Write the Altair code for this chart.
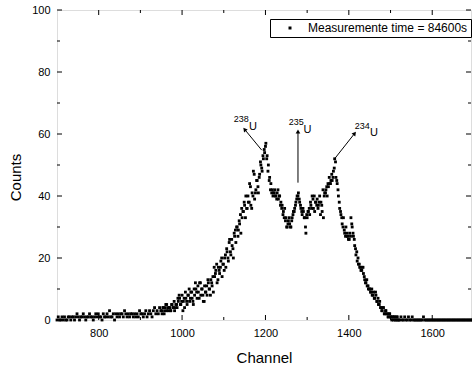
import altair as alt
import pandas as pd

# ---- data ----
channels = list(range(700, 1700, 3))
counts = [
    0, 1, 0, 0, 1, 0, 1, 0, 0, 1,        # 700-727
    1, 0, 1, 1, 0, 1, 2, 1, 0, 1,        # 730-757
    1, 2, 1, 0, 1, 1, 2, 1, 1, 0,        # 760-787
    1, 2, 1, 2, 1, 1, 0, 2, 1, 1,        # 790-817
    2, 1, 3, 1, 1, 2, 0, 2, 1, 2,        # 820-847
    1, 2, 2, 1, 3, 2, 1, 2, 1, 2,        # 850-877
    2, 1, 2, 1, 2, 1, 3, 2, 2, 1,        # 880-907
    2, 3, 1, 2, 3, 2, 1, 3, 4, 2,        # 910-937
    3, 2, 4, 3, 2, 4, 3, 5, 3, 4,        # 940-967
    4, 3, 5, 4, 3, 5, 4, 6, 7, 5,        # 970-997
    8, 6, 4, 7, 5, 8, 6, 9, 7, 5,        # 1000-1027
    8, 10, 7, 9, 12, 8, 10, 6, 11, 9,    # 1030-1057
    8, 12, 10, 13, 11, 9, 14, 16, 12, 17,  # 1060-1087
    15, 19, 14, 18, 20, 17, 22, 19, 26, 21,  # 1090-1117
    24, 20, 27, 25, 30, 29, 31, 28, 33, 35,  # 1120-1147
    37, 40, 36, 38, 44, 37, 41, 48, 39, 42,  # 1150-1177
    45, 41, 47, 50, 48, 52, 54, 57, 53, 50,  # 1180-1207
    46, 44, 42, 41, 42, 40, 41, 39, 40, 38,  # 1210-1237
    37, 35, 36, 33, 30, 32, 31, 30, 33, 35,  # 1240-1267
    36, 38, 40, 41, 38, 36, 34, 35, 33, 28,  # 1270-1297
    33, 35, 34, 37, 40, 36, 35, 38, 39, 37,  # 1300-1327
    40, 38, 35, 33, 41, 42, 40, 43, 44, 45,  # 1330-1357
    45, 48, 52, 46, 44, 40, 36, 34, 31, 33,  # 1360-1387
    28, 30, 27, 26, 28, 33, 30, 27, 24, 21,  # 1390-1417
    19, 18, 17, 16, 17, 15, 13, 12, 11, 10,  # 1420-1447
    10, 9, 8, 9, 7, 8, 6, 5, 6, 4,       # 1450-1477
    3, 4, 2, 3, 2, 1, 2, 1, 1, 0,        # 1480-1507
    1, 0, 1, 0, 0, 1, 0, 0, 1, 0,        # 1510-1537
    0, 1, 0, 0, 1, 0, 0, 0, 0, 0,        # 1540-1567
    0, 0, 0, 1, 0, 0, 0, 0, 0, 0,        # 1570-1597
    0, 0, 0, 0, 0, 0, 0, 0, 0, 0,        # 1600-1627
    0, 0, 0, 0, 0, 0, 0, 0, 0, 0,        # 1630-1657
    0, 0, 0, 0, 0, 0, 0, 0, 0, 0,        # 1660-1687
    0, 0, 0, 0,                          # 1690-1699
]
# interleaved channels in the peak region (denser sampling)
channels_b = list(range(951, 1519, 3))
counts_b = [
    3, 4, 2, 4, 5, 3, 4, 3, 5, 4,        # 951-978
    6, 4, 5, 7, 8, 5, 6, 3, 7, 9,        # 981-1008
    6, 8, 10, 7, 9, 6, 10, 12, 9, 11,    # 1011-1038
    7, 12, 10, 8, 6, 9, 11, 13, 10, 8,   # 1041-1068
    12, 14, 17, 15, 18, 13, 16, 17, 20, 18,  # 1071-1098
    16, 21, 23, 20, 25, 22, 26, 23, 28, 29,  # 1101-1128
    30, 27, 32, 34, 36, 35, 38, 33, 36, 40,  # 1131-1158
    38, 43, 36, 40, 47, 41, 45, 43, 46, 51,  # 1161-1188
    49, 53, 55, 56, 52, 48, 45, 42, 41, 40,  # 1191-1218
    41, 40, 39, 42, 40, 37, 36, 34, 33, 32,  # 1221-1248
    30, 31, 33, 30, 32, 34, 35, 37, 39, 40,  # 1251-1278
    39, 37, 35, 36, 33, 30, 34, 35, 36, 38,  # 1281-1308
    36, 39, 40, 38, 37, 36, 38, 34, 37, 42,  # 1311-1338
    40, 41, 43, 44, 46, 44, 47, 46, 49, 51,  # 1341-1368
    45, 42, 38, 35, 33, 30, 29, 27, 28, 27,  # 1371-1398
    26, 27, 31, 28, 26, 23, 22, 20, 18, 17,  # 1401-1428
    16, 17, 14, 12, 13, 11, 10, 9, 10, 8,    # 1431-1458
    7, 9, 6, 7, 5, 4, 3, 4, 2, 3,        # 1461-1488
    2, 1, 2, 1, 0, 1, 1, 0, 1, 0,        # 1491-1518
]
series_name = "Measuremente time = 84600s"

x_major = [800, 1000, 1200, 1400, 1600]
x_minor = [900, 1100, 1300, 1500]
y_major = [0, 20, 40, 60, 80, 100]
y_minor = [10, 30, 50, 70, 90]

# annotations (isotope peaks)
arrow_x1 = [1191, 1278, 1367]
arrow_y1 = [54.8, 44.3, 52.2]
arrow_x2 = [1150, 1278, 1414]
arrow_y2 = [61.5, 60.8, 60.2]
head_angle = [321, 0, 38]
iso_mass = ["238", "235", "234"]
mass_x = [1142, 1274, 1432]
mass_y = [64.8, 63.8, 62.6]
u_x = [1170, 1301, 1460]
u_y = [62.4, 61.3, 60.2]

W, H = 414, 310
FONT = "Liberation Sans"

xs = alt.Scale(domain=[700, 1693], nice=False, zero=False)
ys = alt.Scale(domain=[0, 100], nice=False)

df = pd.concat([
    pd.DataFrame({"Channel": channels, "Counts": counts}),
    pd.DataFrame({"Channel": channels_b, "Counts": counts_b}),
], ignore_index=True)
df["series"] = series_name

points = alt.Chart(df).mark_square(size=8, opacity=1).encode(
    x=alt.X("Channel:Q", scale=xs,
            axis=alt.Axis(values=x_major, format="d", ticks=False, grid=False, domain=False,
                          labelPadding=7, labelFontSize=11, title="Channel",
                          titleFontSize=15, titleFontWeight="normal",
                          titleBaseline="alphabetic", titleY=42)),
    y=alt.Y("Counts:Q", scale=ys,
            axis=alt.Axis(values=y_major, ticks=False, grid=False, domain=False,
                          labelPadding=7, labelFontSize=11, title="Counts",
                          titleFontSize=15, titleFontWeight="normal",
                          titleX=-42, titleY=167, titleBaseline="middle",
                          titleAlign="center", titleAngle=270)),
    color=alt.Color("series:N", scale=alt.Scale(range=["black"]),
                    legend=alt.Legend(title=None, orient="none", legendX=213, legendY=9,
                                      strokeColor="black", fillColor="white", padding=3,
                                      symbolType="square", symbolSize=9,
                                      symbolOffset=11, labelOffset=12,
                                      labelFontSize=12, labelFont=FONT,
                                      symbolStrokeWidth=0)),
)

# inward ticks
def yticks(vals, length):
    d = pd.DataFrame({"v": vals})
    left = alt.Chart(d).mark_rule(color="black", strokeWidth=1).encode(
        y=alt.Y("v:Q", scale=ys), x=alt.value(0), x2=alt.value(length))
    right = alt.Chart(d).mark_rule(color="black", strokeWidth=1).encode(
        y=alt.Y("v:Q", scale=ys), x=alt.value(W), x2=alt.value(W - length))
    return [left, right]

def xticks(vals, length):
    d = pd.DataFrame({"v": vals})
    bottom = alt.Chart(d).mark_rule(color="black", strokeWidth=1).encode(
        x=alt.X("v:Q", scale=xs), y=alt.value(H), y2=alt.value(H - length))
    top = alt.Chart(d).mark_rule(color="black", strokeWidth=1).encode(
        x=alt.X("v:Q", scale=xs), y=alt.value(0), y2=alt.value(length))
    return [bottom, top]

ticks = yticks(y_major, 5) + yticks(y_minor, 3) + xticks(x_major, 5) + xticks(x_minor, 3)

adf = pd.DataFrame({"x1": arrow_x1, "y1": arrow_y1, "x2": arrow_x2, "y2": arrow_y2,
                    "ang": head_angle})
arrows = alt.Chart(adf).mark_rule(color="black", strokeWidth=1).encode(
    x=alt.X("x1:Q", scale=xs), y=alt.Y("y1:Q", scale=ys), x2="x2:Q", y2="y2:Q")
heads = alt.Chart(adf).mark_point(shape="triangle-up", filled=True, size=22,
                                  color="black", opacity=1).encode(
    x=alt.X("x2:Q", scale=xs), y=alt.Y("y2:Q", scale=ys),
    angle=alt.Angle("ang:Q", scale=None))

ldf = pd.DataFrame({"mx": mass_x, "my": mass_y, "m": iso_mass, "ux": u_x, "uy": u_y,
                    "u": ["U", "U", "U"]})
mass_txt = alt.Chart(ldf).mark_text(font=FONT, fontSize=9, color="black",
                                    align="center", baseline="middle").encode(
    x=alt.X("mx:Q", scale=xs), y=alt.Y("my:Q", scale=ys), text="m:N")
u_txt = alt.Chart(ldf).mark_text(font=FONT, fontSize=11, color="black",
                                 align="center", baseline="middle").encode(
    x=alt.X("ux:Q", scale=xs), y=alt.Y("uy:Q", scale=ys), text="u:N")

chart = alt.layer(points, *ticks, arrows, heads, mass_txt, u_txt).properties(
    width=W, height=H,
    autosize=alt.AutoSizeParams(type="none"),
    padding={"left": 57, "top": 10, "right": 1, "bottom": 49},
).configure_view(
    stroke="black", strokeWidth=1
).configure_axis(
    labelFont=FONT, titleFont=FONT, labelColor="black", titleColor="black"
).configure(background="white")

chart.save("out.html", embed_options={"renderer": "svg", "actions": False})
